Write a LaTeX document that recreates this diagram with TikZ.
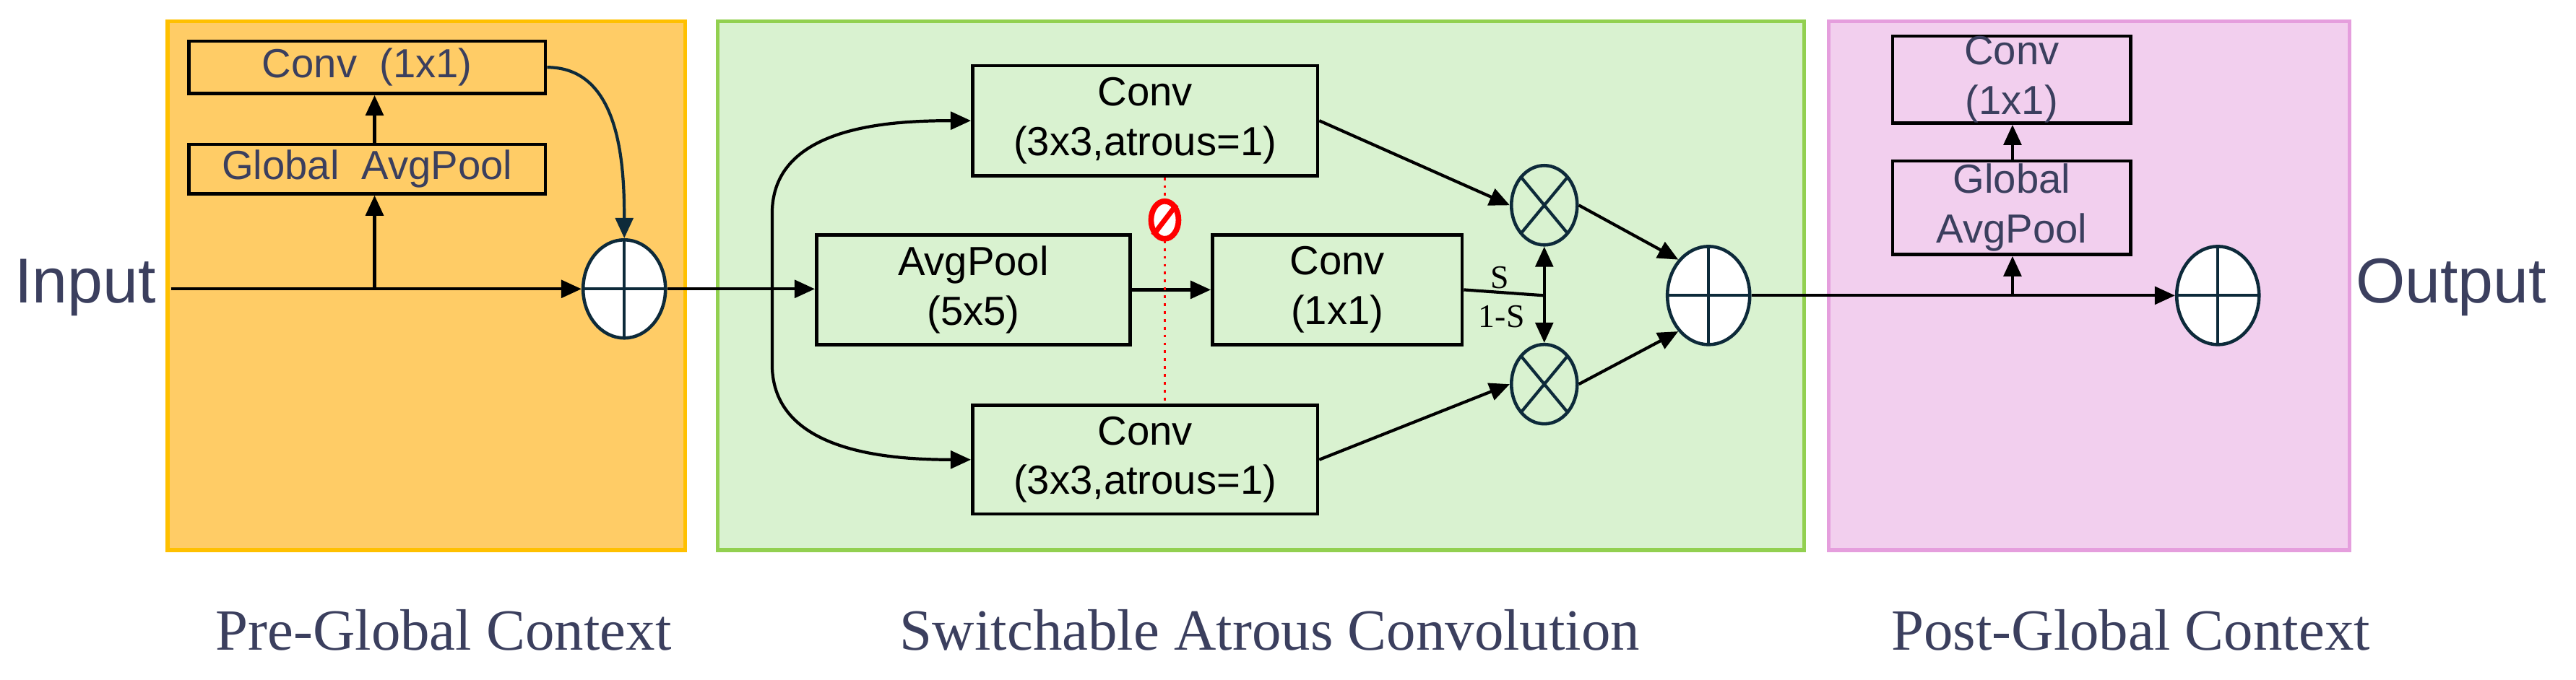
\documentclass[tikz,border=0pt]{standalone}
\usepackage{fontspec}
\setmainfont{Liberation Sans}
\newfontfamily\capfont{Liberation Serif}
\usetikzlibrary{arrows.meta,shapes.geometric}
\definecolor{ink}{HTML}{3B3F5E}
\definecolor{navy}{HTML}{0D2A3A}
\definecolor{orfill}{HTML}{FFCC66}
\definecolor{orline}{HTML}{FFC000}
\definecolor{grfill}{HTML}{D9F2D0}
\definecolor{grline}{HTML}{92D050}
\definecolor{pkfill}{HTML}{F2CFEE}
\definecolor{pkline}{HTML}{E59EDD}
\begin{document}
\begin{tikzpicture}[x=0.02274cm,y=-0.02274cm,
  box/.style n args={2}{draw=black,line width=1.3pt,font=\fontsize{16}{19.5}\selectfont,align=center,inner sep=0pt,
     minimum width=#1*0.02274cm,minimum height=#2*0.02274cm},
  arr/.style={-{Triangle[length=8pt,width=7pt]},line width=1.2pt},
  ln/.style={line width=1.2pt},
  oplus/.style={ellipse,draw=navy,fill=white,line width=1.3pt,minimum width=1.14cm,minimum height=1.36cm,inner sep=0pt,
     path picture={\draw[navy,line width=1.2pt] (path picture bounding box.north) -- (path picture bounding box.south)
       (path picture bounding box.west) -- (path picture bounding box.east);}},
  otimes/.style={ellipse,draw=navy,line width=1.3pt,minimum width=0.91cm,minimum height=1.1cm,inner sep=0pt,
     path picture={\draw[navy,line width=1.2pt] (path picture bounding box.north west) -- (path picture bounding box.south east)
       (path picture bounding box.south west) -- (path picture bounding box.north east);}},
  captxt/.style={font=\capfont\fontsize{23}{26}\selectfont,text=ink},
  lbl/.style={font=\capfont\fontsize{13}{15}\selectfont}]
\useasboundingbox (0,0) rectangle (1568,413.8);
% panels
\fill[orfill] (102,13) rectangle (417,335); \draw[orline,line width=1.5pt] (102,13) rectangle (417,335);
\fill[grfill] (437,13) rectangle (1098,335); \draw[grline,line width=1.5pt] (437,13) rectangle (1098,335);
\fill[pkfill] (1113,13) rectangle (1430,335); \draw[pkline,line width=1.5pt] (1113,13) rectangle (1430,335);
% texts
\node[text=ink,font=\fontsize{25}{29}\selectfont] (in) at (52,175) {Input};
\node[text=ink,font=\fontsize{25}{29}\selectfont] (out) at (1492,175) {Output};
\node[captxt] (c1) at (270,384) {Pre-Global Context};
\node[captxt] (c2) at (773,384) {Switchable Atrous Convolution};
\node[captxt] (c3) at (1297,384) {Post-Global Context};
% left panel
\node[box={217}{32},text=ink] (lconv) at (223.5,41) {Conv\ \ (1x1)};
\node[box={217}{30},text=ink] (lgap) at (223.5,103) {Global\ \ AvgPool};
\node[oplus] (p1) at (380,176) {};
\coordinate (inS) at (104,176);
\coordinate (b1) at (228,176);
\draw[arr] (inS) -- (p1.west);
\draw[arr] (b1) -- (lgap.south -| b1);
\draw[arr] (lgap.north -| b1) -- (lconv.south -| b1);
\draw[arr,navy] (lconv.east) to[out=0,in=90,looseness=1.0] (p1.north);
% middle panel
\node[box={210}{67}] (tconv) at (697,73.5) {Conv\\(3x3,atrous=1)};
\node[box={191}{67}] (avg) at (592.5,176.5) {AvgPool\\(5x5)};
\node[box={152}{67}] (c11) at (814,176.5) {Conv\\(1x1)};
\node[box={210}{66}] (bconv) at (697,280) {Conv\\(3x3,atrous=1)};
\node[otimes] (m1) at (940,125) {};
\node[otimes] (m2) at (940,234) {};
\node[oplus] (p2) at (1040,180) {};
\coordinate (s1) at (470,176);
\coordinate (sw) at (940,180);
\draw[arr] (p1.east) -- (avg.west |- p1.east);
\draw[arr] (s1) -- (s1 |- 0,130) to[out=90,in=180] (tconv.west);
\draw[arr] (s1) -- (s1 |- 0,222) to[out=-90,in=180] (bconv.west);
\draw[arr] (avg.east) -- (c11.west);
\draw[ln] (c11.east) -- (sw);
\draw[arr] (sw) -- (m1.south);
\draw[arr] (sw) -- (m2.north);
\node[lbl] (ls) at (913,169) {S};
\node[lbl] (l1s) at (914,193) {1-S};
\draw[arr] (tconv.east) -- (m1.west);
\draw[arr] (bconv.east) -- (m2.west);
\draw[arr] (m1.east) -- (p2.north west);
\draw[arr] (m2.east) -- (p2.south west);
\coordinate (rt) at (tconv.south -| 709,0);
\coordinate (rb) at (bconv.north -| 709,0);
\draw[red,dotted,line width=1.1pt] (rt) -- (rb);
\node[ellipse,draw=red,line width=2.2pt,fill=white,minimum width=0.38cm,minimum height=0.52cm,inner sep=0pt] (no) at (709,134) {};
\draw[red,line width=2pt] (no.north east) -- (no.south west);
% right panel
\node[box={145}{53},text=ink] (rconv) at (1224.5,48.5) {Conv\\(1x1)};
\node[box={145}{57},text=ink] (rgap) at (1224.5,126.5) {Global\\AvgPool};
\node[oplus] (p3) at (1350,180) {};
\coordinate (b2) at (1225,180);
\draw[arr] (p2.east) -- (p3.west);
\draw[arr] (b2) -- (rgap.south -| b2);
\draw[arr] (rgap.north -| b2) -- (rconv.south -| b2);
\end{tikzpicture}
\end{document}
